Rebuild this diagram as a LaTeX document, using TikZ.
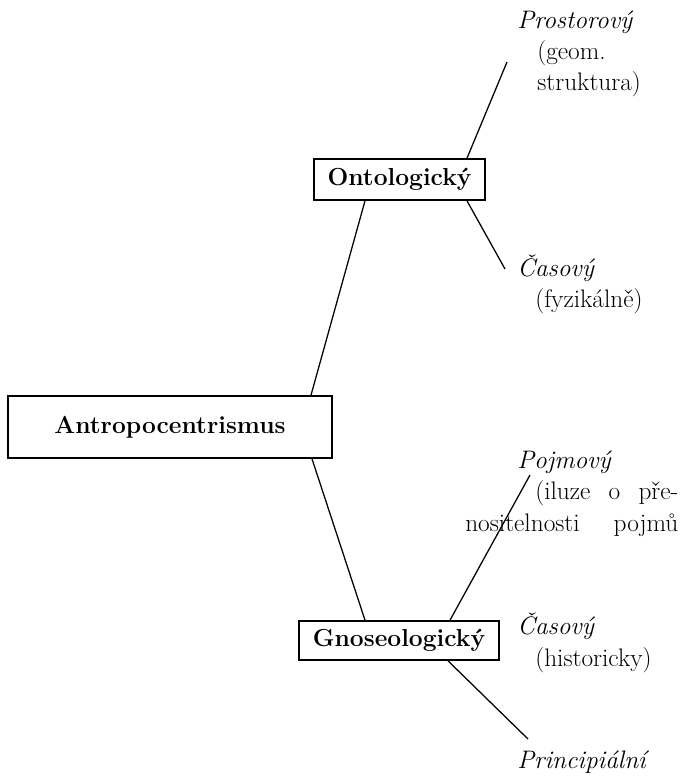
\documentclass[tikz,border=0pt]{standalone}
\usetikzlibrary{positioning}

\begin{document}
\begin{tikzpicture}[
    x = 0.025cm, y = -0.025cm,
    box/.style = {
        draw, rectangle, line width = 1.2pt, inner sep = 0pt,
        font = \fontsize{17.5}{21}\selectfont\bfseries
    },
    leaf/.style = {
        align = left, inner sep = 0pt, anchor = base west,
        font = \fontsize{18}{22.3}\selectfont
    },
    link/.style = {black, line width = 0.9pt},
  ]
  \useasboundingbox (0,0) rectangle (691,780);

  \node[
      box, minimum width = 8.1cm, minimum height = 1.55cm
  ] (antro) at (170,427) {Antropocentrismus};
  \node[
      box, minimum width = 4.275cm, minimum height = 1.025cm
  ] (onto) at (399.5,179.5) {Ontologický};
  \node[
      box, minimum width = 5cm, minimum height = 0.975cm
  ] (gnoseo) at (399,640.5) {Gnoseologický};

  \node[leaf] (prost) at (517,91)
      {\textit{Prostorový}\\\hspace*{0.5cm}(geom.\\\hspace*{0.5cm}struktura)};
  \node[leaf] (casOnto) at (517,308)
      {\textit{Časový}\\\hspace*{0.45cm}(fyzikálně)};
  \node[leaf] (pojm) at (465,531)
      {\hspace*{1.3cm}\textit{Pojmový}\\
       \hspace*{1.75cm}\makebox[3.575cm][s]{(iluze\ o\ pře-}\\
       \makebox[5.325cm][s]{nositelnosti\ pojmů}};
  \node[leaf] (casGnoseo) at (517,666)
      {\textit{Časový}\\\hspace*{0.45cm}(historicky)};
  \node[leaf] (princ) at (517,768) {\textit{Principiální}};

  \coordinate (prostEnd) at (507,62);
  \coordinate (casOntoEnd) at (505,269);
  \coordinate (pojmEnd) at (530,475);
  \coordinate (princEnd) at (528,739);

  \draw[link] (antro.north -| 311,0) -- (onto.south -| 365,0);
  \draw[link] (antro.south -| 312,0) -- (gnoseo.north -| 365,0);
  \draw[link] (onto.north -| 467,0) -- (prostEnd);
  \draw[link] (onto.south -| 467,0) -- (casOntoEnd);
  \draw[link] (gnoseo.north -| 450,0) -- (pojmEnd);
  \draw[link] (gnoseo.south -| 448,0) -- (princEnd);
\end{tikzpicture}
\end{document}
